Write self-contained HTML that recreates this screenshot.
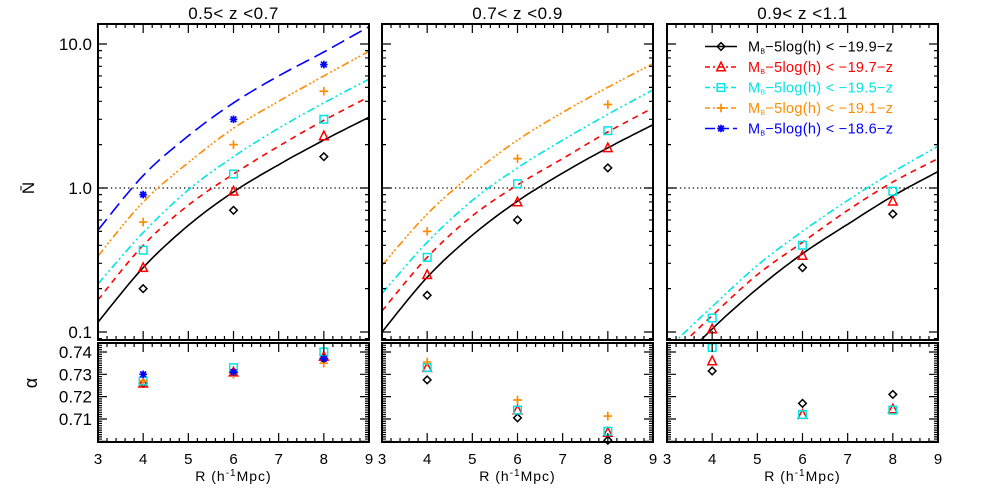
<!DOCTYPE html>
<html><head><meta charset="utf-8"><style>
html,body{margin:0;padding:0;background:#fff;}
svg{display:block;font-family:"Liberation Sans",sans-serif;}
</style></head><body>
<svg id="chart" width="981" height="491" viewBox="0 0 981 491" xmlns="http://www.w3.org/2000/svg"></svg>
<script>
// ---- data ----
const panelTitles = ["0.5< z <0.7", "0.7< z <0.9", "0.9< z <1.1"];
const seriesNames = ["black", "red", "cyan", "orange", "blue"];
const legendLabels = ["-19.9-z", "-19.7-z", "-19.5-z", "-19.1-z", "-18.6-z"];
const curveX = [3, 4, 5, 6, 7, 8, 9];
const pointX = [4, 6, 8];
// curves (N-bar) per panel, per series
const curveP1Black = [0.117, 0.28, 0.55, 0.94, 1.45, 2.15, 3.1];
const curveP1Red = [0.167, 0.40, 0.76, 1.25, 1.95, 2.95, 4.3];
const curveP1Cyan = [0.216, 0.49, 0.97, 1.65, 2.6, 3.9, 5.7];
const curveP1Orange = [0.337, 0.80, 1.5, 2.6, 4.0, 6.0, 8.9];
const curveP1Blue = [0.51, 1.22, 2.3, 3.9, 6.0, 8.8, 13.2];
const curveP2Black = [0.10, 0.24, 0.47, 0.81, 1.27, 1.9, 2.75];
const curveP2Red = [0.14, 0.33, 0.64, 1.05, 1.6, 2.45, 3.6];
const curveP2Cyan = [0.185, 0.42, 0.82, 1.38, 2.15, 3.25, 4.8];
const curveP2Orange = [0.29, 0.66, 1.25, 2.15, 3.35, 5.0, 7.3];
const curveP3Black = [0.05, 0.105, 0.20, 0.35, 0.56, 0.88, 1.3];
const curveP3Red = [0.065, 0.13, 0.25, 0.42, 0.70, 1.1, 1.6];
const curveP3Cyan = [0.076, 0.15, 0.29, 0.50, 0.82, 1.29, 1.95];
// points N-bar
const nP1Black = [0.20, 0.70, 1.65];
const nP1Red = [0.28, 0.95, 2.3];
const nP1Cyan = [0.37, 1.25, 3.0];
const nP1Orange = [0.58, 2.0, 4.7];
const nP1Blue = [0.9, 3.0, 7.2];
const nP2Black = [0.18, 0.60, 1.38];
const nP2Red = [0.25, 0.80, 1.9];
const nP2Cyan = [0.33, 1.07, 2.5];
const nP2Orange = [0.50, 1.6, 3.8];
const nP3Black = [0.07, 0.28, 0.66];
const nP3Red = [0.105, 0.34, 0.81];
const nP3Cyan = [0.125, 0.40, 0.95];
// alpha points
const aP1Black = [0.726, 0.731, 0.737];
const aP1Red = [0.726, 0.731, 0.738];
const aP1Cyan = [0.727, 0.733, 0.740];
const aP1Orange = [0.727, 0.730, 0.735];
const aP1Blue = [0.730, 0.731, 0.737];
const aP2Black = [0.7275, 0.7105, 0.7005];
const aP2Red = [0.733, 0.714, 0.704];
const aP2Cyan = [0.733, 0.714, 0.7045];
const aP2Orange = [0.7355, 0.7185, 0.7113];
const aP3Black = [0.7315, 0.717, 0.721];
const aP3Red = [0.736, 0.712, 0.7145];
const aP3Cyan = [0.742, 0.712, 0.714];
const nTicks = [0.1, 1.0, 10.0];
const nTickLabels = ["0.1", "1.0", "10.0"];
const aTicks = [0.74, 0.73, 0.72, 0.71];
const xTicks = [3, 4, 5, 6, 7, 8, 9];

const panels = [
  {curves:[curveP1Black,curveP1Red,curveP1Cyan,curveP1Orange,curveP1Blue], n:[nP1Black,nP1Red,nP1Cyan,nP1Orange,nP1Blue], a:[aP1Black,aP1Red,aP1Cyan,aP1Orange,aP1Blue]},
  {curves:[curveP2Black,curveP2Red,curveP2Cyan,curveP2Orange], n:[nP2Black,nP2Red,nP2Cyan,nP2Orange], a:[aP2Black,aP2Red,aP2Cyan,aP2Orange]},
  {curves:[curveP3Black,curveP3Red,curveP3Cyan], n:[nP3Black,nP3Red,nP3Cyan], a:[aP3Black,aP3Red,aP3Cyan]}
];
// ---- layout ----
const colors = ["#000000","#ff0000","#00e5e5","#ff8c00","#0000ff"];
const dashes = ["", "6,5", "8,3,2,3,2,3", "8,3,2,2,2,2,2,3", "14,6"];
const panelLeft = [98, 382, 667];
const PW = 271, TOP = 24, MID_T = 340, MID_B = 343, BOT = 442;
const Y1 = 188, DEC = 144;
const NS = "http://www.w3.org/2000/svg";
const svg = document.getElementById("chart");
function mk(tag, attrs, parent){const e=document.createElementNS(NS,tag);for(const k in attrs)e.setAttribute(k,attrs[k]);(parent||svg).appendChild(e);return e;}
function xs(p, v){return panelLeft[p] + (v-3)/6*PW;}
function ysN(v){return Y1 - Math.log10(v)*DEC;}
function ysA(v){return 352 + (0.74 - v)*2233;}

const defs = mk("defs",{});
function marker(g, type, x, y, c){
  const s=3.8;let e;
  if(type===0) e=mk("polygon",{points:`${x},${y-s} ${x+s},${y} ${x},${y+s} ${x-s},${y}`,fill:"none",stroke:c,"stroke-width":1.5},g);
  else if(type===1) e=mk("polygon",{points:`${x},${y-s-1} ${x+s+0.5},${y+s} ${x-s-0.5},${y+s}`,fill:"none",stroke:c,"stroke-width":1.5},g);
  else if(type===2) e=mk("rect",{x:x-s,y:y-s,width:2*s,height:2*s,fill:"none",stroke:c,"stroke-width":1.5},g);
  else if(type===3) e=mk("path",{d:`M${x-s-0.5},${y}H${x+s+0.5}M${x},${y-s-0.5}V${y+s+0.5}`,stroke:c,"stroke-width":1.7},g);
  else e=mk("path",{d:`M${x-s},${y}H${x+s}M${x},${y-s}V${y+s}M${x-s*0.75},${y-s*0.75}L${x+s*0.75},${y+s*0.75}M${x-s*0.75},${y+s*0.75}L${x+s*0.75},${y-s*0.75}`,stroke:c,"stroke-width":1.7},g);
  return e;
}
function curvePath(p, vals){
  const pts = curveX.map((x,i)=>[x, Math.log10(vals[i])]);
  let d="";
  for(let i=0;i<pts.length-1;i++){
    const p0=pts[Math.max(0,i-1)],p1=pts[i],p2=pts[i+1],p3=pts[Math.min(pts.length-1,i+2)];
    for(let k=0;k<=10;k++){
      const t=k/10,t2=t*t,t3=t2*t;
      const f=(a,b,c,dd)=>0.5*((2*b)+(-a+c)*t+(2*a-5*b+4*c-dd)*t2+(-a+3*b-3*c+dd)*t3);
      const X=f(p0[0],p1[0],p2[0],p3[0]),L=f(p0[1],p1[1],p2[1],p3[1]);
      d+=(d?"L":"M")+xs(p,X).toFixed(1)+","+(Y1-L*DEC).toFixed(1);
    }
  }
  return d;
}

for(let p=0;p<3;p++){
  const L=panelLeft[p], R=L+PW;
  const cp=mk("clipPath",{id:"clip"+p},defs);
  mk("rect",{x:L,y:TOP,width:PW,height:MID_T-TOP},cp);
  const g=mk("g",{});
  
  
  const title=mk("text",{x:L+PW/2,y:19,"text-anchor":"middle","font-size":17,"letter-spacing":"0.5"},g);
  title.textContent=panelTitles[p];
  
  
  const dl=mk("line",{x1:L,x2:R,y1:ysN(1),y2:ysN(1),stroke:"#000","stroke-width":1.3,"stroke-dasharray":"1.3,3"},g);
  
  
  const cg=mk("g",{"clip-path":`url(#clip${p})`},g);
  panels[p].curves.forEach((c,i)=>{
    const path=mk("path",{d:curvePath(p,c),fill:"none",stroke:colors[i],"stroke-width":1.6,"stroke-dasharray":dashes[i]},cg);
    
    
  });
  panels[p].n.forEach((vals,i)=>{
    vals.forEach((v,j)=>{
      const y=ysN(v); if(y>MID_T-2) return;
      const m=marker(g,i,xs(p,pointX[j]),y,colors[i]);
      
      
    });
  });
  panels[p].a.forEach((vals,i)=>{
    vals.forEach((v,j)=>{
      const m=marker(g,i,xs(p,pointX[j]),Math.min(ysA(v),BOT-1),colors[i]);
      
      
    });
  });
  mk("rect",{x:L,y:TOP,width:PW,height:MID_T-TOP,fill:"none",stroke:"#000","stroke-width":2},g);
  mk("rect",{x:L,y:MID_B,width:PW,height:BOT-MID_B,fill:"none",stroke:"#000","stroke-width":2},g);
  let d="";
  for(let v=3;v<=9.001;v+=0.2){
    const x=xs(p,v), major=Math.abs(v-Math.round(v))<0.01, len=major?9:4;
    d+=`M${x},${TOP}v${len}M${x},${MID_T}v${-len}M${x},${MID_B}v${len}M${x},${BOT}v${-len}`;
  }
  for(let dec=-2;dec<=1;dec++){
    for(let k=1;k<10;k++){
      const v=k*Math.pow(10,dec), y=ysN(v);
      if(y<TOP||y>MID_T) continue;
      const len=k===1?9:4;
      d+=`M${L},${y}h${len}M${R},${y}h${-len}`;
    }
  }
  for(let k=0;k<=44;k++){
    const v=0.70+k*0.001, y=ysA(v);
    if(y<MID_B||y>BOT) continue;
    const len=(k%10===0)?9:4;
    d+=`M${L},${y}h${len}M${R},${y}h${-len}`;
  }
  mk("path",{d,stroke:"#000","stroke-width":1.2,fill:"none"},g);
  xTicks.forEach(v=>{
    const t=mk("text",{x:xs(p,v),y:464,"text-anchor":"middle","font-size":15},g);
    t.textContent=String(v);
    
    
  });
  const xt=mk("text",{x:L+PW/2,y:481,"text-anchor":"middle","font-size":14,"letter-spacing":"1"},g);
  xt.innerHTML='R (h<tspan dy="-5" font-size="10">-1</tspan><tspan dy="5">Mpc)</tspan>';
  
  
}
nTicks.forEach((v,i)=>{
  const t=mk("text",{x:92,y:ysN(v)+6,"text-anchor":"end","font-size":17});
  t.textContent=nTickLabels[i];
  
  
});
aTicks.forEach(v=>{
  const t=mk("text",{x:92,y:ysA(v)+6,"text-anchor":"end","font-size":17});
  t.textContent=v.toFixed(2);
  
  
});
const yl=mk("text",{x:28,y:194,"text-anchor":"middle","font-size":17,transform:"rotate(-90 28 188)"});
yl.textContent="N̄";


const al=mk("text",{x:38,y:394,"text-anchor":"middle","font-size":18,transform:"rotate(-90 32 389)"});
al.textContent="α";


const lg=mk("g",{});


legendLabels.forEach((lab,i)=>{
  const y=46.5+i*20.5;
  const ln=mk("line",{x1:705,x2:737,y1:y,y2:y,stroke:colors[i],"stroke-width":1.6,"stroke-dasharray":i===0?"":(i===4?"10,4":"5,3,2,3")},lg);
  
  
  const m=marker(lg,i,721,y,colors[i]);
  
  
  const t=mk("text",{x:748,y:y+5,"font-size":14.5,fill:colors[i],"letter-spacing":"0.3"},lg);
  t.innerHTML=`M<tspan font-size="7" dy="2">B</tspan><tspan dy="-2">\u22125log(h) &lt; ${lab.replace(/-/g,"\u2212")}</tspan>`;
  
  
});
</script>
</body></html>
